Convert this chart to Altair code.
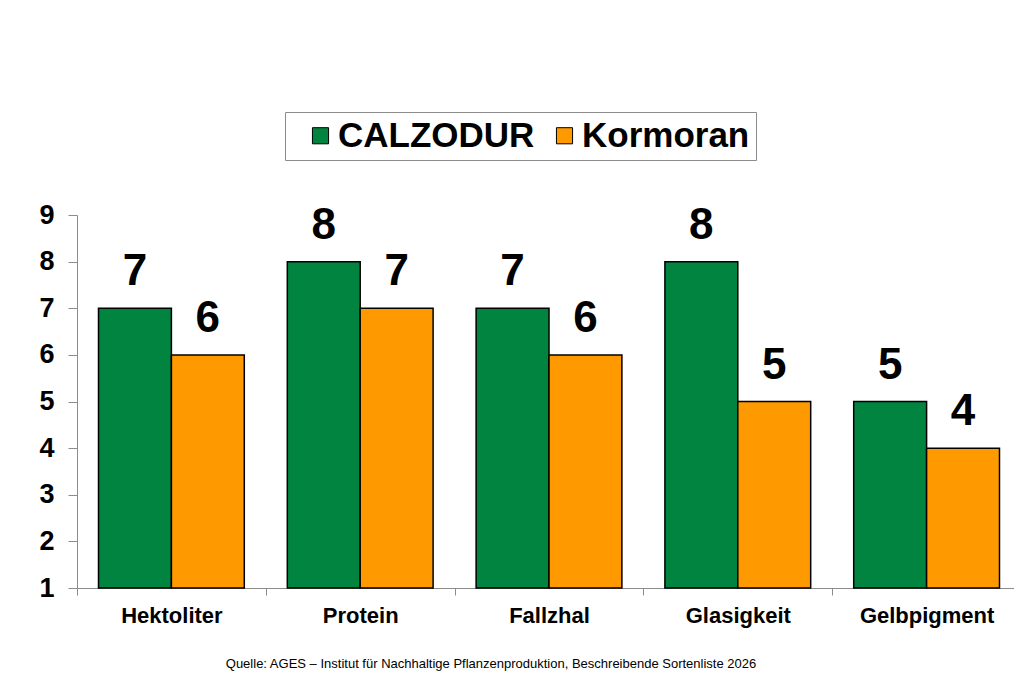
import altair as alt
import pandas as pd

categories = ["Hektoliter", "Protein", "Fallzhal", "Glasigkeit", "Gelbpigment"]
series = ["CALZODUR", "Kormoran"]
calzodur = [7, 8, 7, 8, 5]
kormoran = [6, 7, 6, 5, 4]
colors = ["#00843F", "#FF9900"]
y_ticks = [1, 2, 3, 4, 5, 6, 7, 8, 9]
source = "Quelle: AGES \u2013 Institut f\u00fcr Nachhaltige Pflanzenproduktion, Beschreibende Sortenliste 2026"

rows = []
for c, a, b in zip(categories, calzodur, kormoran):
    rows.append({"Merkmal": c, "Sorte": series[0], "Wert": a, "Basis": 1})
    rows.append({"Merkmal": c, "Sorte": series[1], "Wert": b, "Basis": 1})
df = pd.DataFrame(rows)

FONT = "Liberation Sans"

x_enc = alt.X(
    "Merkmal:N",
    sort=categories,
    title=None,
    scale=alt.Scale(paddingInner=0, paddingOuter=0),
    axis=alt.Axis(tickBand="extent", labelAngle=0),
)
xo_enc = alt.XOffset(
    "Sorte:N",
    sort=series,
    scale=alt.Scale(paddingInner=0, paddingOuter=0.295),
)
y_enc = alt.Y(
    "Wert:Q",
    title=None,
    scale=alt.Scale(domain=[1, 9], nice=False, zero=False),
    axis=alt.Axis(values=y_ticks, grid=False),
)

bars = alt.Chart(df).mark_bar(stroke="black", strokeWidth=1.5).encode(
    x=x_enc,
    xOffset=xo_enc,
    y=y_enc,
    y2=alt.Y2("Basis:Q"),
    color=alt.Color(
        "Sorte:N",
        sort=series,
        scale=alt.Scale(domain=series, range=colors),
        legend=alt.Legend(
            title=None,
            orient="none",
            legendX=208,
            legendY=-103,
            direction="horizontal",
            labelFont=FONT,
            labelFontSize=35,
            labelFontWeight="bold",
            labelColor="black",
            labelLimit=500,
            symbolType="square",
            symbolSize=260,
            symbolStrokeColor="black",
            symbolStrokeWidth=1,
            symbolOffset=12,
            labelOffset=0,
            columnPadding=0,
            padding=6,
            strokeColor="#8c8c8c",
            fillColor="white",
        ),
    ),
)

labels = alt.Chart(df).mark_text(
    font=FONT, fontSize=44, fontWeight="bold", color="black",
    baseline="bottom", dy=-14,
).encode(
    x=x_enc,
    xOffset=xo_enc,
    y=y_enc,
    text=alt.Text("Wert:Q"),
)

chart = (
    alt.layer(bars, labels)
    .properties(
        width=944,
        height=373,
        padding={"left": 69, "top": 207, "right": -7, "bottom": 86},
        autosize=alt.AutoSizeParams(type="none"),
        title=alt.TitleParams(
            text=source,
            orient="bottom",
            font=FONT,
            fontSize=13,
            fontWeight="normal",
            color="black",
            offset=32,
            dx=-58,
        ),
    )
    .configure_view(stroke=None)
    .configure_axisX(
        labelFont=FONT,
        labelFontSize=22,
        labelFontWeight="bold",
        labelColor="black",
        labelPadding=10,
        labelBaseline="top",
        domainColor="#8c8c8c",
        tickColor="#8c8c8c",
        tickSize=7,
    )
    .configure_axisY(
        labelFont=FONT,
        labelFontSize=27,
        labelFontWeight="bold",
        labelColor="black",
        labelPadding=14,
        domainColor="#8c8c8c",
        tickColor="#8c8c8c",
        tickSize=9,
    )
)

chart.save("out.html", embed_options={"renderer": "svg", "actions": False})
